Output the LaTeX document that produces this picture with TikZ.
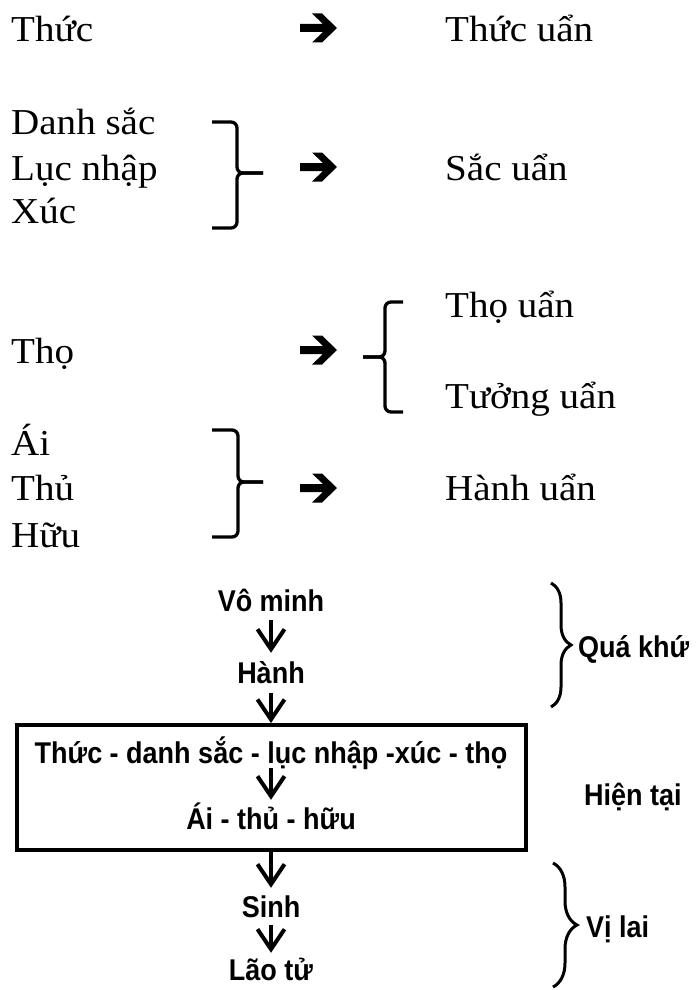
\documentclass[tikz,border=0pt]{standalone}
\usepackage{fontspec}
\setmainfont{Liberation Serif}
\newfontfamily\topfont[FakeStretch=1.07]{Liberation Serif}
\newfontfamily\botfont[FakeStretch=0.9]{Liberation Sans}
\usetikzlibrary{arrows.meta,decorations.pathreplacing,calc}
\tikzset{
  heavyarrow/.pic={\fill (0,-4) -- (23,-4) -- (12,-14.5) -- (22,-14.5) -- (37,0) -- (22,14.5) -- (12,14.5) -- (23,4) -- (0,4) -- cycle;}
}
\begin{document}
\begin{tikzpicture}[x=1pt,y=-1pt,
  tl/.style={anchor=base west, inner sep=0pt, font=\topfont\fontsize{36.5}{40}\selectfont},
  bl/.style={inner xsep=0pt, inner ysep=0pt, text height=22pt, text depth=0pt, anchor=base, font=\botfont\bfseries\fontsize{30}{34}\selectfont},
  side/.style={bl, anchor=base west},
  sqbrace/.style={line width=3.3pt, rounded corners=6pt},
  curly/.style={decorate, decoration={brace, amplitude=20pt}, line width=3pt},
  dn/.style={line width=4pt, -{Straight Barb[length=20pt,width=27pt]}},
]
\useasboundingbox (0,0) rectangle (700,990);

% ---------- top part ----------
\node[tl] (thuc) at (11,42) {Thức};
\node[tl] (thucu) at (445,42) {Thức uẩn};
\node[tl] (danh) at (11,134) {Danh sắc};
\node[tl] (luc) at (11,180) {Lục nhập};
\node[tl] (xuc) at (11,223) {Xúc};
\node[tl] (sacu) at (445,180) {Sắc uẩn};
\node[tl] (tho) at (11,363) {Thọ};
\node[tl] (thou) at (445,317) {Thọ uẩn};
\node[tl] (tuongu) at (445,408) {Tưởng uẩn};
\node[tl] (ai) at (11,455) {Ái};
\node[tl] (thu) at (11,500) {Thủ};
\node[tl] (huu) at (11,547) {Hữu};
\node[tl] (hanhu) at (445,500) {Hành uẩn};

\coordinate (a1) at (300,28);
\coordinate (a2) at (300,167);
\coordinate (a3) at (300,350);
\coordinate (a4) at (300,488);
\pic at (a1) {heavyarrow};
\pic at (a2) {heavyarrow};
\pic at (a3) {heavyarrow};
\pic at (a4) {heavyarrow};

% brace 1
\coordinate (b1t) at (212,122);
\coordinate (b1b) at (212,228);
\coordinate (b1v) at (237,173);
\coordinate (b1x) at (263,173);
\draw[sqbrace] (b1t) -| (b1v) -- (b1x);
\draw[sqbrace] (b1b) -| (b1v) -- (b1x);
% brace 3 (left)
\coordinate (b3t) at (403,302);
\coordinate (b3b) at (403,412);
\coordinate (b3v) at (385,357);
\coordinate (b3x) at (363,357);
\draw[sqbrace] (b3t) -| (b3v) -- (b3x);
\draw[sqbrace] (b3b) -| (b3v) -- (b3x);
% brace 4
\coordinate (b4t) at (212,430);
\coordinate (b4b) at (212,537);
\coordinate (b4v) at (238,482);
\coordinate (b4x) at (263,482);
\draw[sqbrace] (b4t) -| (b4v) -- (b4x);
\draw[sqbrace] (b4b) -| (b4v) -- (b4x);

% ---------- bottom part ----------
\node[bl] (vo) at (271,611) {Vô minh};
\node[bl] (hanh) at (271,683) {Hành};
\node[draw, line width=4pt, minimum width=509pt, minimum height=125pt, inner sep=0pt] (box) at (271.5,787.5) {};
\node[bl] (thucb) at (271,763) {Thức - danh sắc - lục nhập -xúc - thọ};
\node[bl] (aib) at (271,829) {Ái - thủ - hữu};
\node[bl] (sinh) at (271,917) {Sinh};
\node[bl] (lao) at (271,980) {Lão tử};

\draw[dn, shorten <=9pt, shorten >=8pt] (vo.south) -- (vo.south |- hanh.north);
\draw[dn, shorten <=10pt] (hanh.south) -- (hanh.south |- box.north);
\draw[dn, shorten <=5pt, shorten >=7pt] (thucb.south) -- (thucb.south |- aib.north);
\draw[dn, shorten >=7pt] (aib.south |- box.south) -- (aib.south |- sinh.north);
\draw[dn, shorten <=8pt, shorten >=5pt] (sinh.south) -- (sinh.south |- lao.north);

\node[side] (qk) at (578,657) {Quá khứ};
\node[side] (ht) at (584,805) {Hiện tại};
\node[side] (vl) at (586,937) {Vị lai};
\coordinate (c1t) at (551,583);
\coordinate (c1b) at (551,707);
\coordinate (c2t) at (553,863);
\coordinate (c2b) at (553,987);
\draw[curly] (c1t) -- (c1b);
\draw[curly, decoration={amplitude=24pt}] (c2t) -- (c2b);
\end{tikzpicture}
\end{document}
